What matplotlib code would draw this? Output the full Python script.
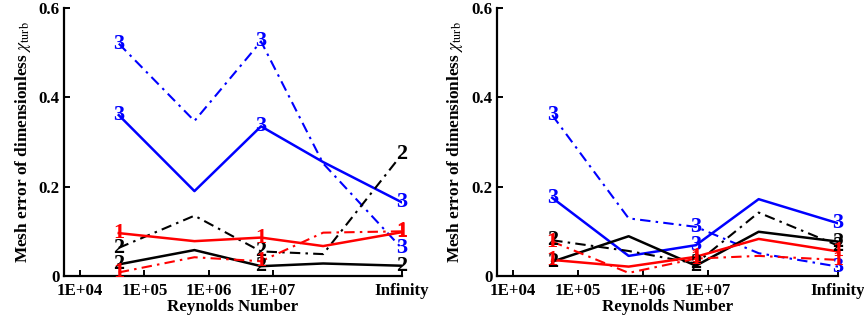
import numpy as np
import matplotlib
matplotlib.use("Agg")
import matplotlib.pyplot as plt

plt.rcParams['font.family'] = ['Liberation Serif', 'DejaVu Serif']
plt.rcParams['mathtext.fontset'] = 'stix'

# Reynolds numbers of the runs (last one stands for the infinite case)
re_pts = [4e4, 6e5, 6.5e6, 6e7, 1e9]
re_ticks = [1e4, 1e5, 1e6, 1e7, 1e9]
re_labels = ['1E+04', '1E+05', '1E+06', '1E+07', 'Infinity']

# left panel
left_blue_solid = [0.36, 0.19, 0.335, 0.255, 0.165]
left_blue_dd = [0.52, 0.347, 0.525, 0.252, 0.062]
left_black_solid = [0.026, 0.058, 0.022, 0.028, 0.023]
left_black_dd = [0.063, 0.135, 0.055, 0.049, 0.272]
left_red_solid = [0.096, 0.078, 0.086, 0.067, 0.098]
left_red_dd = [0.008, 0.042, 0.033, 0.097, 0.1]

# right panel
right_blue_solid = [0.175, 0.045, 0.069, 0.172, 0.118]
right_blue_dd = [0.36, 0.129, 0.11, 0.051, 0.021]
right_black_solid = [0.032, 0.089, 0.023, 0.099, 0.077]
right_black_dd = [0.08, 0.056, 0.028, 0.142, 0.068]
right_red_solid = [0.036, 0.021, 0.043, 0.083, 0.055]
right_red_dd = [0.077, 0.007, 0.039, 0.045, 0.036]

yticks = [0, 0.2, 0.4, 0.6]
ytick_labels = ['0', '0.2', '0.4', '0.6']

dd = (0, (5, 2.5, 1.2, 2.5))


def draw_series(ax, y, color, style, tag):
    lw = 1.8 if style == '-' else 1.5
    ax.plot(re_pts, y, color=color, linestyle=style, linewidth=lw)
    # number markers on every other point
    for i in range(0, len(re_pts), 2):
        ax.text(re_pts[i], y[i], tag, color=color, fontsize=16,
                fontweight='bold', ha='center', va='center', clip_on=False)


def setup_axes(ax, xlab):
    ax.set_xscale('log')
    ax.set_xlim(10 ** 3.75, 1e9)
    ax.set_ylim(0, 0.6)
    ax.set_xticks(re_ticks)
    ax.set_xticklabels(re_labels)
    ax.minorticks_off()
    ax.set_yticks(yticks)
    ax.set_yticklabels(ytick_labels)
    ax.spines['top'].set_visible(False)
    ax.spines['right'].set_visible(False)
    for s in ('left', 'bottom'):
        ax.spines[s].set_linewidth(1.6)
    ax.tick_params(direction='in', length=4, width=1.4, labelsize=12.2, pad=3)
    ax.tick_params(axis='x', pad=5)
    for lab in ax.get_xticklabels() + ax.get_yticklabels():
        lab.set_fontweight('bold')
    ax.set_xlabel('Reynolds Number', fontsize=12.2, fontweight='bold', labelpad=0)
    ax.set_ylabel(r'Mesh error of dimensionless $\chi_{\mathrm{turb}}$',
                  fontsize=12.4, fontweight='bold')
    ax.yaxis.set_label_coords(xlab, 0.5)


fig = plt.figure(figsize=(8.64, 3.23), dpi=100)
ax1 = fig.add_axes([0.074, 0.1455, 0.391, 0.83])
ax2 = fig.add_axes([0.575, 0.1455, 0.395, 0.83])

for ax, xlab, data in [
    (ax1, -0.092,
     [(left_blue_dd, 'blue', dd, '3'), (left_blue_solid, 'blue', '-', '3'),
      (left_black_dd, 'black', dd, '2'), (left_black_solid, 'black', '-', '2'),
      (left_red_dd, 'red', dd, '1'), (left_red_solid, 'red', '-', '1')]),
    (ax2, -0.094,
     [(right_blue_dd, 'blue', dd, '3'), (right_blue_solid, 'blue', '-', '3'),
      (right_black_dd, 'black', dd, '2'), (right_black_solid, 'black', '-', '2'),
      (right_red_dd, 'red', dd, '1'), (right_red_solid, 'red', '-', '1')]),
]:
    for y, c, st, tag in data:
        draw_series(ax, y, c, st, tag)
    setup_axes(ax, xlab)

fig.savefig('out.png', dpi=100)
